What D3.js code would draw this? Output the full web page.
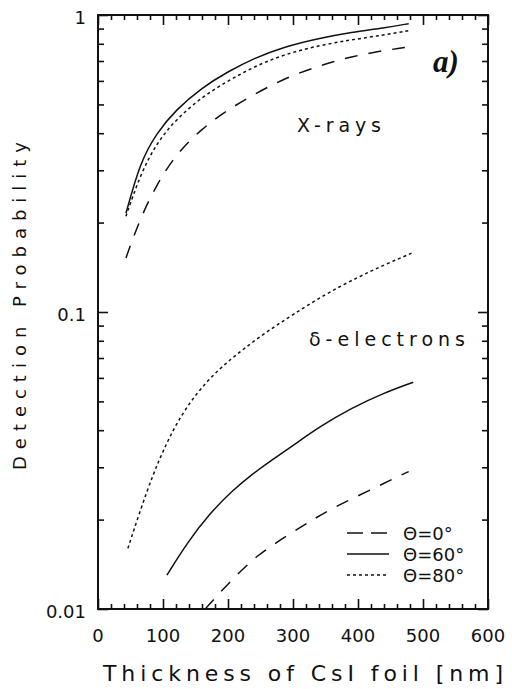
<!DOCTYPE html>
<html>
<head>
<meta charset="utf-8">
<script src="https://cdn.jsdelivr.net/npm/d3@7"></script>
<style>
  body { margin: 0; background: #fff; }
  svg text { font-family: "DejaVu Sans", sans-serif; fill: #111; }
</style>
</head>
<body>
<div id="vis"></div>
<script>
// Chart data
const X_TICKS = [0, 100, 200, 300, 400, 500, 600];
const Y_TICKS = [0.01, 0.1, 1];
const Y_TICK_LABELS = ["0.01", "0.1", "1"];

// X-rays
const XRAY_THICK = [43, 65, 90, 120, 160, 200, 240, 285, 340, 390, 440, 478];
const XRAY_0 = [0.152, 0.207, 0.268, 0.34, 0.415, 0.48, 0.54, 0.61, 0.675, 0.725, 0.76, 0.78];
const XRAY_60 = [0.215, 0.32, 0.40, 0.48, 0.57, 0.645, 0.715, 0.78, 0.835, 0.875, 0.905, 0.935];
const XRAY_80 = [0.21, 0.29, 0.37, 0.445, 0.53, 0.60, 0.67, 0.735, 0.79, 0.825, 0.857, 0.885];

// delta-electrons
const DELTA_THICK_0 = [165, 185, 210, 245, 290, 330, 370, 420, 462, 478];
const DELTA_0 = [0.01, 0.0112, 0.0128, 0.0152, 0.0176, 0.02, 0.0224, 0.0252, 0.028, 0.029];
const DELTA_THICK_60 = [106, 137, 172, 208, 238, 265, 300, 340, 390, 440, 485];
const DELTA_60 = [0.013, 0.0167, 0.021, 0.0252, 0.0285, 0.0315, 0.0355, 0.041, 0.0475, 0.0534, 0.058];
const DELTA_THICK_80 = [46, 65, 85, 100, 120, 150, 185, 220, 260, 300, 350, 400, 440, 483];
const DELTA_80 = [0.016, 0.0215, 0.0285, 0.034, 0.042, 0.053, 0.064, 0.074, 0.086, 0.098, 0.115, 0.131, 0.144, 0.158];

const LEGEND_LABELS = ["\u0398=0\u00b0", "\u0398=60\u00b0", "\u0398=80\u00b0"];

// Frame
const WIDTH = 512, HEIGHT = 689;
const PLOT = {left: 98, right: 488, top: 15, bottom: 609};

const DASH_0 = "13,11";
const DASH_80 = "3,3";

const SVG = d3.select("#vis")
  .append("svg")
    .attr("width", WIDTH)
    .attr("height", HEIGHT);

// Scales
const X_SCALE = d3.scaleLinear().domain([0, 600]).range([PLOT.left, PLOT.right]);
const Y_SCALE = d3.scaleLog().domain([0.01, 1]).range([PLOT.bottom, PLOT.top]);

// minor tick values
const X_MINOR = d3.range(0, 601, 20).filter(v => v % 100 !== 0);
const Y_MINOR = [];
[0.01, 0.1].forEach(d => { for (let k = 2; k <= 9; k++) Y_MINOR.push(d * k); });

// inward ticks on all four sides
function tickAxis(axisFn, scale, values, size, transform) {
  SVG.append("g")
    .attr("transform", transform)
    .call(axisFn(scale).tickValues(values).tickSize(size).tickFormat(""))
    .call(g => g.select(".domain").remove())
    .call(g => g.selectAll("line").attr("stroke", "#111").attr("stroke-width", 1.6));
}
tickAxis(d3.axisBottom, X_SCALE, X_TICKS, -10, "translate(0," + PLOT.bottom + ")");
tickAxis(d3.axisBottom, X_SCALE, X_MINOR, -5, "translate(0," + PLOT.bottom + ")");
tickAxis(d3.axisTop, X_SCALE, X_TICKS, -10, "translate(0," + PLOT.top + ")");
tickAxis(d3.axisTop, X_SCALE, X_MINOR, -5, "translate(0," + PLOT.top + ")");
tickAxis(d3.axisLeft, Y_SCALE, Y_TICKS, -10, "translate(" + PLOT.left + ",0)");
tickAxis(d3.axisLeft, Y_SCALE, Y_MINOR, -6, "translate(" + PLOT.left + ",0)");
tickAxis(d3.axisRight, Y_SCALE, Y_TICKS, -10, "translate(" + PLOT.right + ",0)");
tickAxis(d3.axisRight, Y_SCALE, Y_MINOR, -6, "translate(" + PLOT.right + ",0)");

// frame box
SVG.append("rect")
  .attr("x", PLOT.left).attr("y", PLOT.top)
  .attr("width", PLOT.right - PLOT.left)
  .attr("height", PLOT.bottom - PLOT.top)
  .attr("fill", "none")
  .attr("stroke", "#111")
  .attr("stroke-width", 2);

// tick labels
SVG.selectAll(".xlab")
  .data(X_TICKS)
  .enter()
  .append("text")
    .attr("x", d => X_SCALE(d))
    .attr("y", 642)
    .attr("text-anchor", "middle")
    .attr("font-size", 18)
    .text(d => d);

SVG.selectAll(".ylab")
  .data(Y_TICKS)
  .enter()
  .append("text")
    .attr("x", 86)
    .attr("y", d => Y_SCALE(d) + 9)
    .attr("text-anchor", "end")
    .attr("font-size", 18)
    .text((d, i) => Y_TICK_LABELS[i]);

// axis titles
SVG.append("text")
  .attr("x", 103).attr("y", 681)
  .attr("font-size", 22)
  .attr("textLength", 400)
  .attr("lengthAdjust", "spacing")
  .text("Thickness of CsI foil [nm]");

SVG.append("text")
  .attr("transform", "translate(26,470) rotate(-90)")
  .attr("font-size", 18)
  .attr("textLength", 328)
  .attr("lengthAdjust", "spacing")
  .text("Detection Probability");

// curves, clipped to the frame
SVG.append("clipPath").attr("id", "plotclip")
  .append("rect")
    .attr("x", PLOT.left).attr("y", PLOT.top)
    .attr("width", PLOT.right - PLOT.left)
    .attr("height", PLOT.bottom - PLOT.top);

const line = d3.line()
  .x(d => X_SCALE(d[0]))
  .y(d => Y_SCALE(d[1]))
  .curve(d3.curveBasis);

const CURVES = [
  {xs: XRAY_THICK, ys: XRAY_0, dash: DASH_0},
  {xs: XRAY_THICK, ys: XRAY_60, dash: null},
  {xs: XRAY_THICK, ys: XRAY_80, dash: DASH_80},
  {xs: DELTA_THICK_0, ys: DELTA_0, dash: DASH_0},
  {xs: DELTA_THICK_60, ys: DELTA_60, dash: null},
  {xs: DELTA_THICK_80, ys: DELTA_80, dash: DASH_80}
];

CURVES.forEach(c => {
  SVG.append("path")
    .datum(c.xs.map((x, i) => [x, c.ys[i]]))
    .attr("d", line)
    .attr("fill", "none")
    .attr("stroke", "#111")
    .attr("stroke-width", 1.5)
    .attr("stroke-dasharray", c.dash)
    .attr("clip-path", "url(#plotclip)");
});

// in-plot labels
SVG.append("text")
  .attr("x", 297).attr("y", 132)
  .attr("font-size", 19)
  .attr("textLength", 84)
  .attr("lengthAdjust", "spacing")
  .text("X-rays");

SVG.append("text")
  .attr("x", 309).attr("y", 346)
  .attr("font-size", 19)
  .attr("textLength", 156)
  .attr("lengthAdjust", "spacing")
  .text("\u03b4-electrons");

SVG.append("text")
  .attr("x", 433).attr("y", 72)
  .attr("font-style", "italic")
  .attr("font-weight", "bold")
  .attr("font-size", 31)
  .style("font-family", "'Liberation Serif', serif")
  .text("a)");

// legend
const LEGEND_DASH = ["16,8", null, DASH_80];
const LEGEND_Y = [533, 554, 575];
LEGEND_LABELS.forEach((lab, i) => {
  SVG.append("line")
    .attr("x1", 347).attr("x2", 389)
    .attr("y1", LEGEND_Y[i]).attr("y2", LEGEND_Y[i])
    .attr("stroke", "#111")
    .attr("stroke-width", 1.5)
    .attr("stroke-dasharray", LEGEND_DASH[i]);
  SVG.append("text")
    .attr("x", 403).attr("y", LEGEND_Y[i] + 7)
    .attr("font-size", 18)
    .text(lab);
});
</script>
</body>
</html>
